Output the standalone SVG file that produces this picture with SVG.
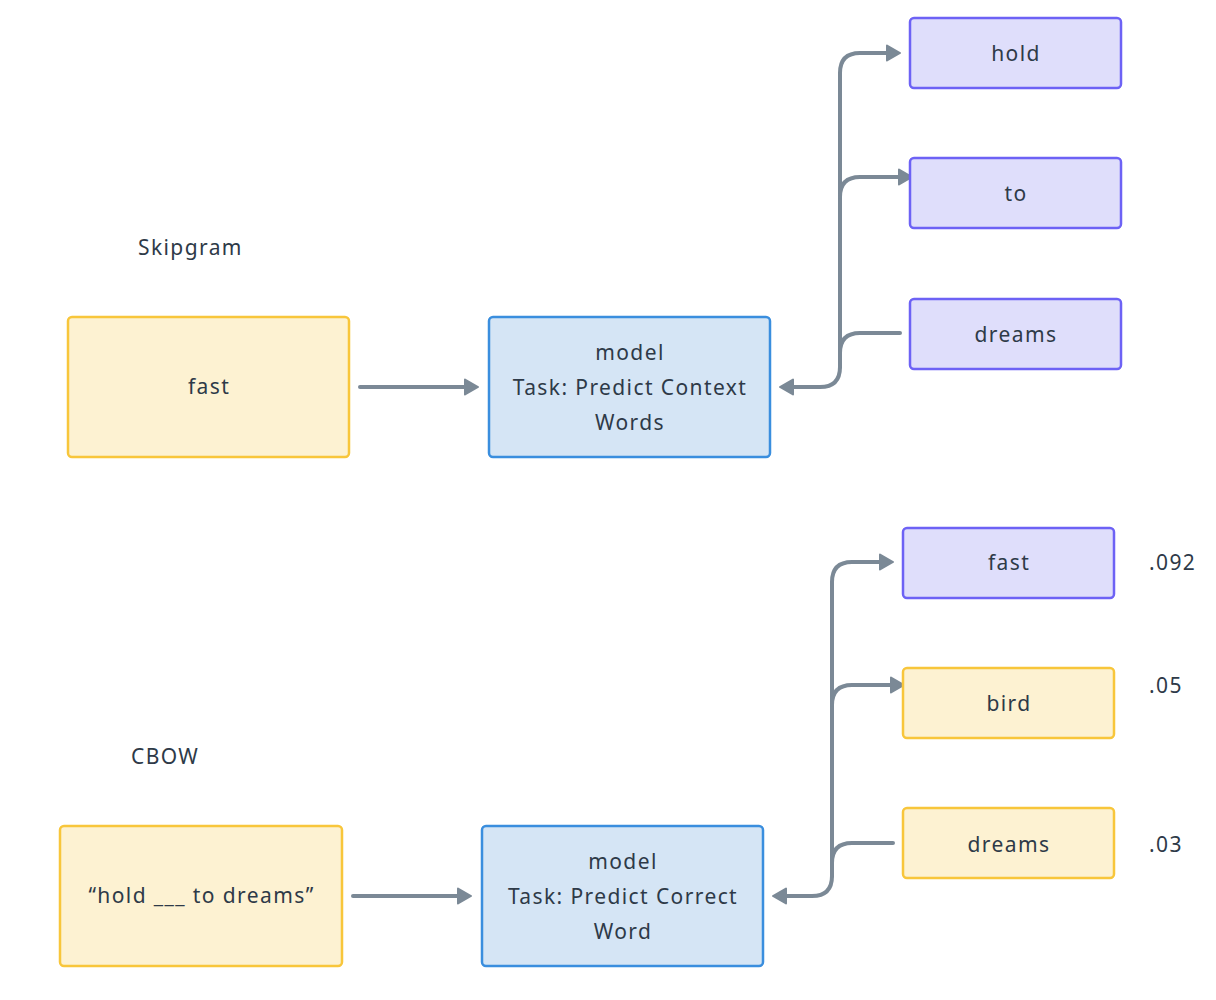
<svg xmlns="http://www.w3.org/2000/svg" width="1216" height="1000" viewBox="0 0 1216 1000">
<defs>
<style>
.yel{fill:#fdf2d2;stroke:#f8c63b;stroke-width:2.5}
.blu{fill:#d5e5f5;stroke:#3a8ede;stroke-width:2.5}
.pur{fill:#dfdefb;stroke:#6d62f5;stroke-width:2.5}
text{font-family:"Noto Sans","Liberation Sans",sans-serif;font-size:21px;letter-spacing:1.4px;fill:#2e3a48}
.c{text-anchor:middle}
.edge{fill:none;stroke:#7b8996;stroke-width:4;stroke-linecap:round;stroke-linejoin:round}
</style>
<marker id="ah" markerUnits="userSpaceOnUse" markerWidth="16" markerHeight="18" viewBox="0 0 16 18" refX="7" refY="9" orient="auto">
<path d="M1,1.5 L14,9 L1,16.5 z" fill="#7b8996" stroke="#7b8996" stroke-width="2" stroke-linejoin="round"/>
</marker>
</defs>
<rect width="1216" height="1000" fill="#ffffff"/>
<text x="138" y="255">Skipgram</text>
<text x="131" y="764">CBOW</text>
<g id="connectors">
<path class="edge" d="M360 387 H471" marker-end="url(#ah)"/>
<path class="edge" d="M900 333 H860 Q840 333 840 353 V367 Q840 387 820 387 H787" marker-end="url(#ah)"/>
<path class="edge" d="M840 367 V73 Q840 53 860 53 H893" marker-end="url(#ah)"/>
<path class="edge" d="M840 197 Q840 177 860 177 H905" marker-end="url(#ah)"/>
<path class="edge" d="M353 896 H464" marker-end="url(#ah)"/>
<path class="edge" d="M893 843 H852 Q832 843 832 863 V876 Q832 896 812 896 H780" marker-end="url(#ah)"/>
<path class="edge" d="M832 876 V582 Q832 562 852 562 H886" marker-end="url(#ah)"/>
<path class="edge" d="M832 705 Q832 685 852 685 H897" marker-end="url(#ah)"/>
</g>
<g id="sg-input"><rect class="yel" x="68" y="317" width="281" height="140" rx="4"/><text class="c" x="209" y="394">fast</text></g>
<g id="sg-model"><rect class="blu" x="489" y="317" width="281" height="140" rx="4"/><text class="c" x="630" y="360">model</text><text class="c" x="630" y="395">Task: Predict Context</text><text class="c" x="630" y="430">Words</text></g>
<g id="sg-hold"><rect class="pur" x="910" y="18" width="211" height="70" rx="4"/><text class="c" x="1016" y="61">hold</text></g>
<g id="sg-to"><rect class="pur" x="910" y="158" width="211" height="70" rx="4"/><text class="c" x="1016" y="201">to</text></g>
<g id="sg-dreams"><rect class="pur" x="910" y="299" width="211" height="70" rx="4"/><text class="c" x="1016" y="342">dreams</text></g>
<g id="cb-input"><rect class="yel" x="60" y="826" width="282" height="140" rx="4"/><text class="c" x="201.5" y="903">“hold ___ to dreams”</text></g>
<g id="cb-model"><rect class="blu" x="482" y="826" width="281" height="140" rx="4"/><text class="c" x="623" y="869">model</text><text class="c" x="623" y="904">Task: Predict Correct</text><text class="c" x="623" y="939">Word</text></g>
<g id="cb-fast"><rect class="pur" x="903" y="528" width="211" height="70" rx="4"/><text class="c" x="1009" y="570">fast</text></g>
<g id="cb-bird"><rect class="yel" x="903" y="668" width="211" height="70" rx="4"/><text class="c" x="1009" y="711">bird</text></g>
<g id="cb-dreams"><rect class="yel" x="903" y="808" width="211" height="70" rx="4"/><text class="c" x="1009" y="852">dreams</text></g>
<text x="1149" y="570">.092</text>
<text x="1149" y="693">.05</text>
<text x="1149" y="852">.03</text>
</svg>
